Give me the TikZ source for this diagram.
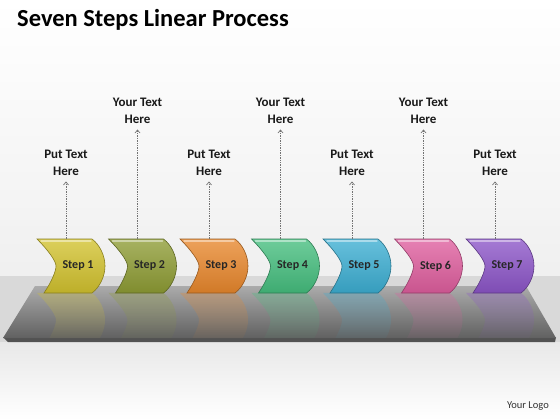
\documentclass[tikz,border=0pt]{standalone}
\usepackage{fontspec}
\setmainfont{Carlito}
\usetikzlibrary{arrows.meta,fadings}
\definecolor{sc1}{HTML}{D2C22E}
\definecolor{sc2}{HTML}{8E9C34}
\definecolor{sc3}{HTML}{E8872C}
\definecolor{sc4}{HTML}{45BE7E}
\definecolor{sc5}{HTML}{3CAED2}
\definecolor{sc6}{HTML}{DF5E9E}
\definecolor{sc7}{HTML}{8C55C8}
\tikzfading[name=reflfade, top color=transparent!70, middle color=transparent!100, bottom color=transparent!100]
\newcommand\chevpath[2]{(#1,#2) -- ({#1+55},#2) .. controls ({#1+63},{#2+6}) and ({#1+68},{#2+17}) .. ({#1+68},{#2+27}) .. controls ({#1+68},{#2+37}) and ({#1+63},{#2+48}) .. ({#1+55},{#2+54}) -- ({#1+7},{#2+54}) .. controls ({#1+15},{#2+42}) and ({#1+19},{#2+32}) .. ({#1+19},{#2+27}) .. controls ({#1+19},{#2+22}) and ({#1+11},{#2+11}) .. (#1,#2) -- cycle}
\tikzset{
  steplabel/.style={font=\bfseries\fontsize{12}{13}\selectfont, text=black!85, inner sep=0pt},
  calltext/.style={font=\bfseries\fontsize{13}{17}\selectfont, align=center, text=black!90, inner sep=0pt},
  callarrow/.style={draw=black!55, densely dotted, line width=0.7pt, shorten >=6pt, -{Straight Barb[length=3pt,width=5pt]}},
}
\begin{document}
\begin{tikzpicture}[x=1pt,y=-1pt]
\useasboundingbox (0,0) rectangle (560,420);
% background
\shade[top color=white,bottom color=black!6] (0,0) rectangle (560,276);
\fill[black!15] (0,276) rectangle (560,342);
\shade[top color=black!9,bottom color=white] (0,342) rectangle (560,420);
% platform
\fill[black!68] (3,337) -- (556,337) -- (555,342) -- (8,342) -- cycle;
\shade[top color=black!33,bottom color=black!62] (35,286) -- (526,286) -- (556,338) -- (3,338) -- cycle;
% title and logo
\node[anchor=west, font=\bfseries\fontsize{24.5}{27}\selectfont, inner sep=0pt] (title) at (17,20) {Seven Steps Linear Process};
\node[anchor=east, font=\fontsize{10.5}{12}\selectfont, text=black!80, inner sep=0pt] (logo) at (549,406) {Your Logo};
% steps
\foreach \i/\col/\ly [evaluate=\i as \xo using 37+71.5*(\i-1)] in
  {1/sc1/162.5, 2/sc2/110.5, 3/sc3/162.5, 4/sc4/110.5, 5/sc5/162.5, 6/sc6/110.5, 7/sc7/162.5}{
  % reflection
  \begin{scope}
    \clip (35,286) -- (526,286) -- (556,338) -- (3,338) -- cycle;
    \fill[\col, path fading=reflfade] \chevpath{\xo}{293};
  \end{scope}
  % chevron
  \shade[top color=\col!78!white, bottom color=\col!90!black, draw=\col!65!black, line width=0.6pt] \chevpath{\xo}{239};
  \draw[white, opacity=0.45, line width=1.2pt, line cap=round] ({\xo+4},241) -- ({\xo+54},241);
  \node[steplabel] (s\i) at ({\xo+41},266) {Step \i};
  \coordinate (c\i) at ({\xo+29},239);
  \node[calltext] (l\i) at ({\xo+29},\ly) {\ifdim\ly pt<150pt Your Text\else Put Text\fi\\Here};
  \draw[callarrow] (c\i) -- (l\i.south);
}
\end{tikzpicture}
\end{document}
